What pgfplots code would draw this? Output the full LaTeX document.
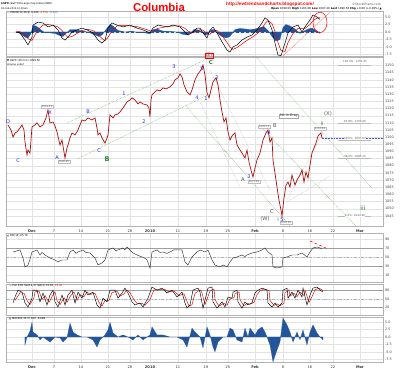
\documentclass[border=0pt]{standalone}
\usepackage{pgfplots}
\pgfplotsset{compat=1.18}
\usepackage{fontspec}
\setmainfont{DejaVu Sans}
\newfontfamily\libsans{Liberation Sans}
\newcommand\tf[1]{\fontsize{#1}{#1}\selectfont}
\definecolor{macdblue}{RGB}{35,85,155}
\definecolor{pricered}{RGB}{170,15,15}
\definecolor{wblue}{RGB}{35,35,230}
\definecolor{wgreen}{RGB}{40,130,40}
\definecolor{ggreen}{RGB}{100,175,100}
\pgfplotsset{
 panel/.style={
  scale only axis, width=377pt, xmin=6, xmax=383,
  anchor=south west,
  axis line style={gray!60, line width=0.4pt},
  major tick length=0pt,
  yticklabel pos=right,
  yticklabel style={font=\tf{3.4}, text=black!75, xshift=-1.5pt, /pgf/number format/.cd, set thousands separator={}, fixed},
  xticklabel style={font=\tf{3.6}, text=black!80},
  xtick={32,54,81,108,130,150,178,206,228,255,283,310,333,360},
  xticklabels={},
  xmajorgrids, ymajorgrids,
  major grid style={gray!22, line width=0.3pt},
  /pgf/number format/assume math mode=true,
 },
 dates/.style={xticklabels={\textbf{Dec},7,14,21,28,\textbf{2010},11,19,25,\textbf{Feb},8,16,22,\textbf{Mar}}},
}
\begin{document}
\begin{tikzpicture}[x=1pt,y=1pt]
\path[use as bounding box] (0,0) rectangle (400,371);

% ---------- top MACD ----------
\begin{axis}[panel, at={(6pt,315pt)}, height=45pt, ymin=-8, ymax=7,
  ytick={-7.5,-5,-2.5,0,2.5,5}, yticklabels={-7.5,-5.0,-2.5,0.0,2.5,5.0}]
\addplot[fill=macdblue, draw=macdblue, line width=0.2pt] coordinates {
(16,0)(20,-0.5)(25,-1.7)(28,-2.0)(31,-0.5)(33,2.2)(36,2.0)(40,1.0)(45,-0.3)(50,-0.3)(55,-0.5)(60,-1.2)(63,-1.5)(66,-0.5)(70,0.8)(75,0.8)(80,0.5)(85,0.2)(90,-0.3)(95,-1.0)(99,-1.5)(102,-1.0)(106,0.8)(110,2.5)(113,2.0)(118,0.5)(125,0)(132,0.3)(138,-0.3)(145,-0.3)(150,-0.6)(153,0.8)(157,1.0)(163,0.3)(170,0.2)(177,0)(183,-0.8)(187,-1.0)(190,-0.5)(194,0.8)(197,0.8)(201,0.3)(205,-1.0)(208,-0.8)(211,0.8)(214,0.8)(218,-0.6)(222,-1.5)(226,-2.0)(230,-1.5)(235,0.8)(240,1.2)(245,1.0)(250,0.8)(255,1.0)(260,1.5)(264,1.8)(268,0.5)(272,-1.5)(276,-3.0)(280,-2.5)(283,1.5)(286,2.5)(290,2.0)(295,1.0)(300,-0.5)(304,0.3)(308,1.0)(312,1.3)(316,0.5)(320,-0.5)} \closedcycle;
\addplot[macdblue, densely dashed, line width=0.5pt] coordinates {(16,0)(320,0)};
\addplot[red!85!black, line width=0.5pt] coordinates {
(16,0.3)(20,0.1)(25,-1.0)(28,-2.2)(32,-2.8)(35,-1.0)(38,0.8)(43,2.3)(48,2.5)(53,2.2)(58,1.7)(62,0.5)(65,-0.8)(68,-1.8)(72,-1.5)(77,-0.5)(82,0.5)(87,0.9)(93,0.5)(98,-0.8)(102,-2.2)(105,-2.9)(108,-1.8)(112,0.5)(117,2.0)(123,2.2)(130,2.0)(137,1.8)(143,1.2)(150,0.4)(153,0.4)(158,1.2)(167,1.8)(173,2.0)(180,2.0)(185,1.2)(188,0.3)(192,-0.3)(197,0.2)(200,0.8)(203,0.6)(207,-0.6)(210,-0.8)(213,0.3)(217,0.5)(222,-1.2)(227,-3.5)(230,-5.0)(233,-5.8)(237,-5.2)(242,-4.0)(247,-2.8)(252,-1.8)(257,-0.6)(262,1.2)(265,2.8)(268,3.8)(272,2.8)(275,0.2)(278,-3.5)(281,-6.2)(285,-6.5)(288,-3.5)(293,-0.5)(298,1.2)(302,1.2)(305,1.2)(310,2.5)(313,3.8)(317,4.6)(320,4.75)};
\addplot[black, line width=0.5pt] coordinates {
(16,0)(20,-0.3)(25,-2.7)(28,-4.3)(32,-1.7)(33,2.3)(38,3.3)(43,3.0)(48,1.7)(53,2.3)(58,0.7)(62,-2.0)(65,-2.7)(68,-1.7)(72,0)(77,0.7)(82,1.3)(87,0.7)(93,-0.3)(98,-2.7)(102,-3.7)(105,-2.7)(108,1.3)(112,3.0)(117,2.3)(123,1.7)(130,2.3)(137,1.3)(143,0.7)(150,-0.3)(153,1.3)(158,2.3)(167,1.7)(173,2.3)(180,1.7)(185,0)(188,-1.0)(192,-0.3)(197,1.3)(200,1.3)(203,-0.3)(207,-2.0)(210,0.7)(213,1.7)(217,-0.3)(222,-3.3)(227,-6.0)(230,-6.7)(233,-5.0)(237,-4.3)(242,-2.7)(247,-1.7)(252,-1.0)(257,0.7)(262,3.0)(265,4.7)(268,4.0)(272,0.7)(275,-3.7)(278,-7.7)(281,-7.9)(285,-3.7)(288,-0.3)(293,1.7)(298,2.3)(302,0)(305,1.7)(310,4.0)(313,5.7)(317,5.0)(320,4.2)};
\addplot[red, densely dotted, line width=0.5pt] coordinates {(281,-8.5)(330,6.5)};
\draw[red, line width=0.5pt] (axis cs:320,3.2) ellipse [x radius=7, y radius=3.4];
\end{axis}

% ---------- price ----------
\begin{axis}[panel, dates, at={(6pt,145pt)}, height=169pt, ymin=1037.9, ymax=1156,
  ytick={1045,1050,...,1150}]
% channel / fan lines
\addplot[ggreen, densely dotted, line width=0.5pt] coordinates {(67,1109.9)(205,1153.9)};
\addplot[ggreen, densely dotted, line width=0.5pt] coordinates {(77,1084.7)(212,1130.9)};
\addplot[ggreen, densely dotted, line width=0.5pt] coordinates {(254,1157.4)(372,1064.4)};
\addplot[ggreen, densely dotted, line width=0.5pt] coordinates {(185,1122.5)(292,1036.4)};
\addplot[ggreen, densely dotted, line width=0.5pt] coordinates {(262,1106.4)(372,1026)};
\addplot[gray!70, densely dotted, line width=0.4pt] coordinates {(200,1124.6)(240,1065.1)};
\addplot[gray!70, densely dotted, line width=0.4pt] coordinates {(210,1147.0)(270,1063.0)};
\addplot[gray!70, densely dotted, line width=0.4pt] coordinates {(287,1054.6)(330,1072.8)};
\addplot[gray!70, densely dotted, line width=0.4pt] coordinates {(287,1056.0)(320,1099.4)};
% fib lines
\addplot[gray!55, line width=0.4pt] coordinates {(338,1150.45)(371,1150.45)};
\addplot[gray!55, line width=0.4pt] coordinates {(338,1109.90)(371,1109.90)};
\addplot[gray!55, line width=0.4pt] coordinates {(338,1097.67)(371,1097.67)};
\addplot[gray!55, line width=0.4pt] coordinates {(338,1085.22)(371,1085.22)};
\addplot[gray!55, line width=0.4pt] coordinates {(338,1044.90)(371,1044.90)};
\addplot[blue!70, densely dotted, line width=0.5pt] coordinates {(322,1099.56)(383,1099.56)};
% price
\addplot[pricered, line width=0.7pt] coordinates {
(8,1108.5)(11,1105.0)(13,1100.1)(15,1102.9)(17,1103.6)(20,1106.4)(22,1108.5)(24,1105.0)(25,1096.6)(27,1087.5)(28,1091.0)(30,1088.9)(31,1098.0)(32,1107.1)(35,1108.5)(37,1109.9)(40,1107.1)(43,1108.5)(46,1113.4)(48,1119.0)(50,1109.9)(53,1110.6)(55,1107.8)(57,1103.6)(60,1094.5)(62,1098.0)(65,1085.4)(67,1092.4)(68,1094.5)(70,1099.4)(72,1102.9)(75,1101.5)(77,1103.6)(80,1108.5)(82,1112.0)(85,1111.3)(88,1113.4)(92,1112.0)(95,1113.4)(97,1106.4)(98,1101.5)(100,1102.9)(102,1099.4)(105,1095.9)(107,1099.4)(108,1101.5)(110,1115.5)(113,1113.4)(115,1115.5)(118,1116.2)(120,1117.6)(123,1120.4)(127,1124.6)(130,1126.0)(132,1127.4)(135,1126.0)(138,1123.2)(140,1124.6)(143,1123.2)(147,1122.5)(149,1120.4)(150,1114.1)(151,1126.0)(152,1129.5)(155,1131.6)(157,1133.0)(160,1132.3)(163,1134.4)(166,1133.7)(170,1135.1)(173,1137.2)(175,1140.0)(178,1141.4)(180,1144.2)(182,1142.1)(184,1136.5)(187,1131.6)(190,1129.5)(192,1133.0)(195,1140.0)(198,1144.2)(201,1147.0)(203,1150.4)(205,1143.5)(207,1130.9)(209,1127.4)(211,1133.0)(213,1138.6)(216,1141.4)(218,1136.5)(220,1126.0)(222,1117.6)(224,1110.6)(226,1113.4)(228,1103.6)(230,1098.0)(232,1100.8)(235,1102.9)(237,1094.5)(240,1091.0)(242,1088.9)(245,1085.4)(247,1091.0)(249,1082.6)(251,1077.0)(253,1072.1)(255,1078.4)(257,1084.0)(260,1088.9)(263,1098.0)(266,1102.9)(268,1105.0)(270,1096.6)(272,1099.4)(273,1084.0)(275,1074.9)(277,1065.1)(279,1056.0)(281,1049.0)(282,1044.9)(284,1057.4)(286,1066.5)(288,1068.6)(290,1065.1)(292,1073.5)(295,1066.5)(297,1070.0)(300,1073.5)(302,1077.0)(304,1068.6)(306,1075.6)(308,1071.4)(310,1080.5)(312,1088.9)(314,1092.4)(316,1095.9)(318,1100.8)(320,1102.2)(321,1102.9)(322,1099.4)};
\end{axis}

% ---------- RSI ----------
\begin{axis}[panel, at={(6pt,89pt)}, height=49pt, ymin=-5.6, ymax=103.3,
  ytick={10,30,50,70,90}]
\addplot[gray!75, line width=0.5pt] coordinates {(6,70)(383,70)};
\addplot[gray!75, line width=0.5pt] coordinates {(6,30)(383,30)};
\addplot[gray!60, dash dot, line width=0.4pt] coordinates {(6,50)(383,50)};
\addplot[black!80, line width=0.45pt] coordinates {
(13,61.1)(16,63)(20,65.6)(23,47.8)(25,27.8)(28,32.2)(30,45)(32,61.1)(37,65.6)(40,54.4)(42,60)(45,54.4)(50,47.8)(55,43.3)(58,38.9)(62,43.3)(67,43.3)(70,61.1)(73,65.6)(76,58)(78,61.1)(83,65.6)(86,60)(90,58.9)(95,47.8)(98,32.2)(102,36.7)(105,43.3)(108,65.6)(113,70.0)(116,64)(118,65.6)(123,70.0)(125,66)(127,72.2)(130,65.6)(133,58.9)(137,54.4)(142,50)(145,47)(147,43.3)(150,25.6)(152,61.1)(157,65.6)(160,60)(163,61.1)(167,58)(170,61.1)(174,66)(177,65.6)(182,65.6)(185,38.9)(188,32.2)(192,50)(197,61.1)(200,65.6)(205,61.1)(208,65.6)(212,43.3)(215,32.2)(220,27.8)(223,32.2)(227,27.8)(230,38.9)(233,47.8)(237,50)(242,54.4)(245,51)(247,54.4)(252,58.9)(257,61.1)(262,65.6)(265,70.0)(268,61.1)(272,54.4)(273,27.8)(277,25.6)(282,27.8)(283,47.8)(287,50)(292,54.4)(297,54.4)(302,58.9)(307,50)(310,61.1)(313,70.0)(317,72.2)(320,70.0)(322,67.8)};
\addplot[red, densely dashed, line width=0.5pt] coordinates {(310,85.6)(328,67.8)};
\end{axis}

% ---------- Full STO ----------
\begin{axis}[panel, at={(6pt,56pt)}, height=31pt, ymin=-6, ymax=102.5,
  ytick={20,50,80}]
\addplot[gray!75, line width=0.5pt] coordinates {(6,80)(383,80)};
\addplot[gray!75, line width=0.5pt] coordinates {(6,20)(383,20)};
\addplot[gray!60, dash dot, line width=0.4pt] coordinates {(6,50)(383,50)};
\addplot[red!85!black, line width=0.45pt] coordinates {
(15,45)(17,55)(20,72)(24,70)(27,45)(30,30)(34,55)(35,75)(39,78)(42,48)(45,62)(49,38)(52,58)(55,75)(57,45)(60,30)(64,55)(67,38)(70,58)(74,75)(77,45)(80,65)(84,58)(87,75)(90,66)(95,70)(99,38)(102,25)(105,45)(109,45)(112,72)(117,78)(120,60)(124,68)(127,82)(130,72)(134,48)(137,35)(142,35)(145,28)(150,48)(154,82)(159,82)(164,85)(169,75)(174,78)(179,62)(184,68)(187,42)(189,25)(192,30)(195,70)(200,82)(202,72)(205,30)(210,78)(214,85)(215,48)(219,25)(224,35)(227,28)(230,50)(234,55)(235,68)(239,75)(240,48)(244,25)(247,35)(250,32)(254,38)(257,65)(260,78)(264,85)(269,80)(270,45)(274,28)(277,33)(280,26)(284,35)(285,72)(289,82)(290,60)(294,70)(297,58)(300,75)(304,62)(305,80)(309,38)(312,58)(315,82)(319,88)(322,82)(323,79)};
\addplot[black, line width=0.45pt] coordinates {
(13,36)(15,57)(18,81)(22,74)(25,36)(28,22)(32,53)(33,81)(37,81)(40,40)(43,71)(47,29)(50,64)(53,81)(55,40)(58,22)(62,64)(65,29)(68,64)(72,81)(75,36)(78,74)(82,53)(85,81)(88,64)(93,74)(97,29)(100,18)(103,53)(107,40)(110,81)(115,81)(118,53)(122,71)(125,88)(128,71)(132,40)(135,29)(140,36)(143,22)(148,53)(152,92)(157,81)(162,88)(167,71)(172,81)(177,57)(182,74)(185,36)(187,18)(190,29)(193,81)(198,88)(200,74)(203,18)(208,88)(212,92)(213,40)(217,18)(222,40)(225,22)(228,57)(232,53)(233,74)(237,81)(238,40)(242,18)(245,40)(248,29)(252,36)(255,71)(258,81)(262,88)(267,81)(268,36)(272,22)(275,36)(278,22)(282,36)(283,81)(287,88)(288,53)(292,74)(295,53)(298,81)(302,57)(303,88)(307,29)(310,64)(313,88)(317,92)(320,81)(323,74)};
\end{axis}

% ---------- MACD hist ----------
\begin{axis}[panel, dates, at={(6pt,9pt)}, height=45pt, ymin=-8.45, ymax=6.76,
  ytick={-7.5,-5,-2.5,0,2.5,5}, yticklabels={-7.5,-5.0,-2.5,0.0,2.5,5.0}]
\addplot[fill=macdblue, draw=macdblue, line width=0.2pt] coordinates {
(25,0)(25,-2.7)(27,0)(30,2)(32,5.0)(33,1.7)(37,0.7)(40,-1.0)(43,0)(50,-1.7)(55,0)(60,-0.3)(63,-1.7)(67,-0.3)(70,4.7)(73,1.7)(77,0.7)(82,0)(87,0)(93,-1.0)(97,-3.4)(100,-1.0)(105,0.7)(108,2.4)(110,5.0)(113,1.4)(118,0)(123,0.7)(128,0)(133,-1.0)(138,0.7)(143,-1.0)(150,0.7)(152,3.4)(157,0.7)(163,0.7)(170,0)(177,0)(183,-1.0)(187,-3.4)(192,3.0)(195,1.7)(198,0.7)(200,0)(203,-3.7)(207,3.4)(210,0.7)(213,-3.4)(215,-5.0)(218,-1.7)(223,0)(227,0)(230,3.0)(233,2.4)(237,-1.0)(242,-1.7)(245,3.0)(248,0)(250,3.0)(255,0.7)(258,2.4)(262,3.4)(265,1.7)(267,0)(270,-2.7)(273,-8.4)(277,-4.4)(280,-1.7)(283,6.4)(287,4.1)(290,1.7)(293,-1.7)(297,1.7)(300,-1.0)(303,2.4)(307,-2.7)(310,1.7)(313,4.1)(317,1.4)(320,0)(323,-1.0)} \closedcycle;
\end{axis}

% ---------- header text ----------
\node[anchor=west, font=\tf{2.6}, inner sep=0] at (1,367) {\textbf{\$SPX} (S\&P 500 Large Cap Index) INDX};
\node[anchor=west, font=\tf{2.4}, inner sep=0] at (1,362) {18-Feb-2010 10:30am};
\node[font=\libsans\bfseries\tf{11.4}, text=red, inner sep=0] at (159,364) {Columbia};
\node[anchor=west, font=\libsans\bfseries\tf{4.6}, text=red, inner sep=0] at (226,367) {http://ewtrendsandcharts.blogspot.com/};
\node[anchor=west, font=\tf{3}, text=black!70, inner sep=0] at (352,367) {\textcopyright StockCharts.com};
\node[anchor=east, font=\tf{2.7}, inner sep=0] at (382,362) {\textbf{Open} 1098.00 \textbf{High} 1103.08 \textbf{Low} 1097.40 \textbf{Last} 1099.56 \textbf{Chg} +0.00 (+0.00\%) ▲};
% panel legends
\node[anchor=west, font=\tf{2.6}, inner sep=0] at (7,358) {— MACD(12,26,9) 4.243, \textcolor{red}{4.754}, \textcolor{macdblue}{-0.513}};
\node[anchor=west, font=\tf{2.6}, inner sep=0] at (7,310) {▼ \$SPX (30 min) 1099.56};
\node[anchor=west, font=\tf{2.4}, inner sep=0] at (7,306) {Volume undef};
\node[anchor=west, font=\tf{2.6}, inner sep=0] at (7,135) {\textcolor{wgreen}{▲} RSI(14) 65.76};
\node[anchor=west, font=\tf{2.6}, inner sep=0] at (9,85.3) {— Full STO \%K(14,3) \%D(3) 74.30, \textcolor{red}{79.40}};
\node[anchor=west, font=\tf{2.6}, inner sep=0] at (9,52) {\textcolor{macdblue}{▲} MACD(5,35,5) Hist -0.998};

% wave labels (blue)
\begin{scope}[every node/.style={font=\tf{5}, text=wblue, inner sep=0}]
\node at (8,249) {D}; \node at (18,210) {C}; \node at (50,258) {X};
\node at (57,213) {A}; \node at (88,259) {B}; \node at (99,220) {C};
\node at (124,277) {1}; \node at (144,249) {2}; \node at (174,304) {3};
\node at (197,273) {4}; \node at (202,302) {5}; \node at (206,272) {1};
\node at (217,293) {2}; \node at (249,194) {3}; \node at (269,238) {4};
\node at (282,151) {5};
\end{scope}
% gray labels
\begin{scope}[every node/.style={font=\tf{5.2}, text=gray!65!black, inner sep=0}]
\node at (243,191) {A}; \node at (265,152) {(W)}; \node at (272,159) {C};
\node at (328,257) {(X)}; \node at (275,245) {B};
\end{scope}
% green labels
\begin{scope}[every node/.style={font=\tf{5.2}, text=wgreen, inner sep=0}]
\node[font=\bfseries\tf{6.5}] at (107,212) {B}; \node[font=\bfseries\tf{5.5}] at (211,308) {C};
\node at (278,151) {i}; \node at (322,247) {ii}; \node[font=\tf{6}] at (363,163) {iii};
\end{scope}
\node[draw=red, text=red, font=\tf{4.5}, inner sep=0.5pt, line width=0.4pt] at (209,315.5) {(Z)};
% price boxes
\begin{scope}[every node/.style={font=\tf{2.5}, text=gray!70!black, draw=gray!50, inner sep=0.6pt, line width=0.3pt, fill=white}]
\node at (47,264) {1119.13}; \node at (64,209) {1085.85}; \node at (254,189) {1071.59};
\node at (264,244.5) {1103.73}; \node at (286,148) {1044.90}; \node at (320,242) {1103.63};
\node[font=\tf{3.3}, text=black!80, draw=gray!70] at (289,255) {ML in Gray};
\end{scope}
% fib labels
\begin{scope}[every node/.style={font=\tf{2.7}, text=gray!70!black, inner sep=0, fill=white}]
\node at (355,309.5) {100.0\%: 1150.45}; \node at (355,249.5) {61.8\%: 1109.90};
\node at (355,232.5) {50.0\%: 1097.67}; \node at (355,214.5) {38.2\%: 1085.22};
\node at (355,155.5) {0.0\%: 1044.90};
\end{scope}
\end{tikzpicture}
\end{document}
